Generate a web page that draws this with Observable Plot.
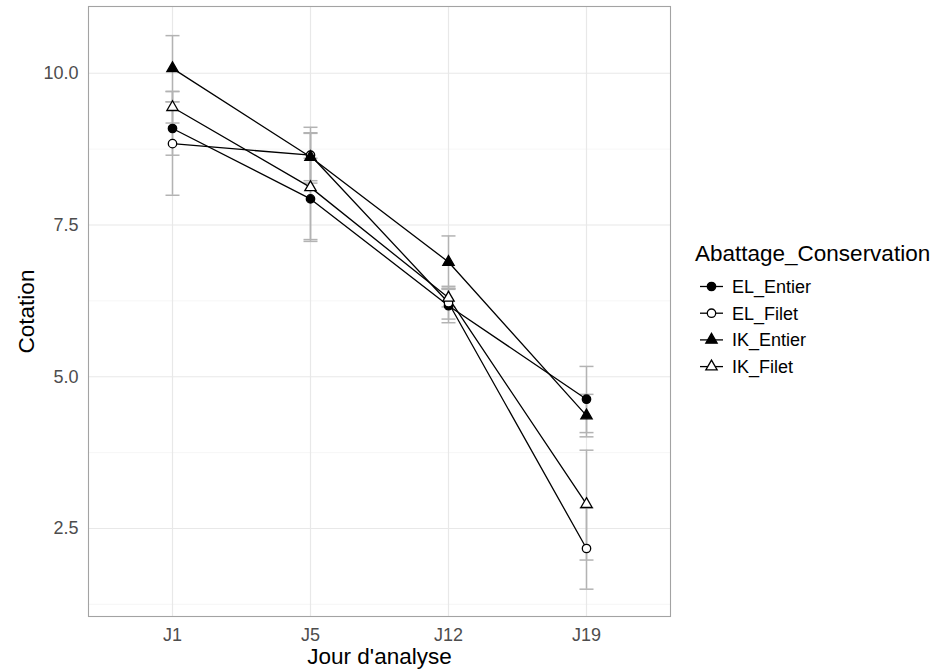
<!DOCTYPE html>
<html><head><meta charset="utf-8">
<script src="https://cdn.jsdelivr.net/npm/d3@7"></script>
<script src="https://cdn.jsdelivr.net/npm/@observablehq/plot@0.6"></script>
<style>
body{margin:0;background:#fff;}
#chart{position:relative;width:944px;height:671px;font-family:"Liberation Sans",Arial,Helvetica,sans-serif;}
#chart svg{position:absolute;left:0;top:0;}
</style></head><body><div id="chart"></div>
<script>
// ---- data ----
const days = ["J1", "J5", "J12", "J19"];
const groups = ["EL_Entier", "EL_Filet", "IK_Entier", "IK_Filet"];
const yTicks = [2.5, 5, 7.5, 10];
const yMinor = [1.25, 3.75, 6.25, 8.75];

const meanELEntier = [9.09, 7.93, 6.17, 4.63];
const loELEntier   = [8.65, 7.26, 5.89, 4.08];
const hiELEntier   = [9.53, 8.60, 6.44, 5.17];

const meanELFilet = [8.84, 8.65, 6.22, 2.17];
const loELFilet   = [7.99, 8.19, 5.95, 1.50];
const hiELFilet   = [9.70, 9.11, 6.49, 2.84];

const meanIKEntier = [10.08, 8.62, 6.89, 4.36];
const loIKEntier   = [9.53, 8.23, 6.46, 4.01];
const hiIKEntier   = [10.62, 9.02, 7.32, 4.71];

const meanIKFilet = [9.44, 8.12, 6.30, 2.90];
const loIKFilet   = [9.18, 7.23, 6.15, 1.98];
const hiIKFilet   = [9.70, 9.01, 6.45, 3.79];

const means = [meanELEntier, meanELFilet, meanIKEntier, meanIKFilet];
const lows = [loELEntier, loELFilet, loIKEntier, loIKFilet];
const highs = [hiELEntier, hiELFilet, hiIKEntier, hiIKFilet];

const rows = groups.flatMap((g, gi) => days.map((d, di) => ({
  group: g, day: d, mean: means[gi][di], lo: lows[gi][di], hi: highs[gi][di]
})));

// ---- styles ----
const FONT = '"Liberation Sans", Arial, Helvetica, sans-serif';
const ebColor = "#b3b3b3";
const capSymbol = {draw(ctx, size) { const w = Math.sqrt(size / Math.PI); ctx.moveTo(-w, 0); ctx.lineTo(w, 0); }};

const plot = Plot.plot({
  width: 944, height: 671,
  marginLeft: 88, marginRight: 274, marginTop: 6, marginBottom: 55,
  style: {fontFamily: FONT, background: "white", overflow: "visible"},
  x: {type: "point", domain: days, padding: 0.6},
  y: {domain: [1.05, 11.1]},
  symbol: {domain: groups, range: ["circle", "circle", "triangle", "triangle"]},
  color: {domain: groups, range: ["black", "white", "black", "white"]},
  marks: [
    Plot.ruleY(yMinor, {stroke: "#f2f2f2", strokeWidth: 0.7}),
    Plot.ruleY(yTicks, {stroke: "#e8e8e8", strokeWidth: 1.2}),
    Plot.ruleX(days, {stroke: "#e8e8e8", strokeWidth: 1.2}),
    Plot.axisY({ticks: yTicks, tickFormat: d3.format(".1f"), tickSize: 0, tickPadding: 10,
      fontSize: 18, fill: "#4d4d4d", label: null}),
    Plot.axisY({ticks: [], tickSize: 0, label: "Cotation", labelAnchor: "center", labelArrow: "none",
      labelOffset: 70, fontSize: 22.5, fill: "black"}),
    Plot.axisX({tickSize: 0, tickPadding: 12, fontSize: 18, fill: "#4d4d4d", label: null}),
    Plot.axisX({ticks: [], tickSize: 0, label: "Jour d'analyse", labelAnchor: "center", labelArrow: "none",
      labelOffset: 47, fontSize: 22.5, fill: "black"}),
    Plot.ruleX(rows, {x: "day", y1: "lo", y2: "hi", stroke: ebColor, strokeWidth: 1.5}),
    Plot.dot(rows, {x: "day", y: "lo", symbol: capSymbol, r: 7, stroke: ebColor, strokeWidth: 1.5, fill: "none"}),
    Plot.dot(rows, {x: "day", y: "hi", symbol: capSymbol, r: 7, stroke: ebColor, strokeWidth: 1.5, fill: "none"}),
    Plot.line(rows, {x: "day", y: "mean", z: "group", stroke: "black", strokeWidth: 1.3}),
    Plot.dot(rows, {x: "day", y: "mean", symbol: "group", fill: "group", stroke: "black", strokeWidth: 1.3, r: 4.2}),
    Plot.frame({stroke: "#a3a3a3", strokeWidth: 1.1})
  ]
});
document.getElementById("chart").appendChild(plot);

// ---- legend ----
const leg = d3.select("#chart").append("svg")
  .attr("width", 944).attr("height", 671)
  .style("font-family", FONT);
leg.append("text").attr("x", 695).attr("y", 261)
  .attr("font-size", 22.5).attr("fill", "black").text("Abattage_Conservation");
const legSym = [d3.symbolCircle, d3.symbolCircle, d3.symbolTriangle, d3.symbolTriangle];
const legFill = ["black", "white", "black", "white"];
groups.forEach((g, i) => {
  const cy = 286.5 + i * 26.7;
  const gEl = leg.append("g").attr("transform", `translate(711.5,${cy})`);
  gEl.append("line").attr("x1", -11.5).attr("x2", 11.5).attr("stroke", "black").attr("stroke-width", 1.3);
  gEl.append("path").attr("d", d3.symbol(legSym[i], Math.PI * 4.2 * 4.2)())
    .attr("fill", legFill[i]).attr("stroke", "black").attr("stroke-width", 1.3);
  leg.append("text").attr("x", 732).attr("y", cy).attr("dy", "0.35em")
    .attr("font-size", 18).attr("fill", "black").text(g);
});
</script>
</body></html>
